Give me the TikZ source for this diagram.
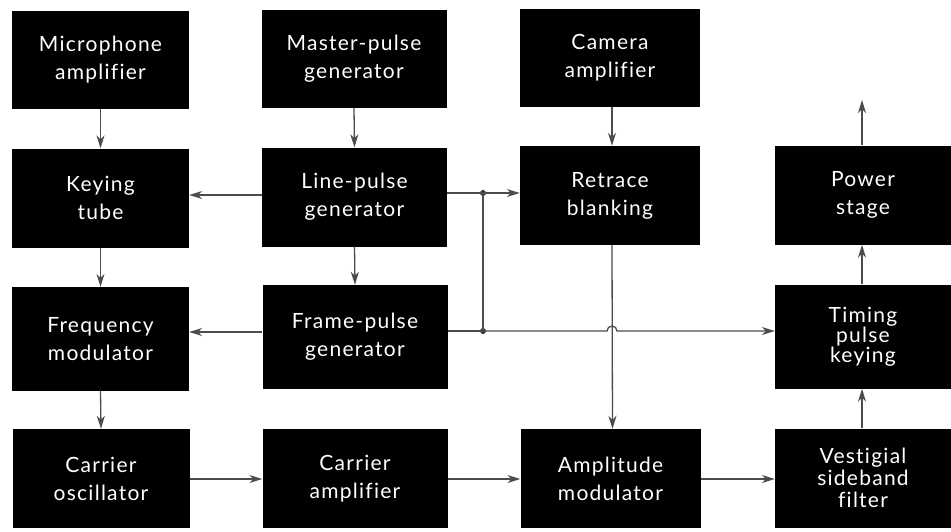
\documentclass[tikz,border=0pt]{standalone}
\usepackage{fontspec}
\setmainfont[LetterSpace=6,Ligatures={NoCommon,NoRare,NoContextual}]{Lato}
\usetikzlibrary{arrows.meta}
\begin{document}
\begin{tikzpicture}[x=1pt,y=-1pt,
  blk/.style={fill=black,draw=none,text=white,align=center,inner sep=0pt,
    font=\fontsize{21}{28}\selectfont},
  cola/.style={minimum width=177pt},
  colb/.style={minimum width=185pt},
  colc/.style={minimum width=180pt},
  cold/.style={minimum width=176pt},
  rowa/.style={minimum height=98pt},
  rowb/.style={minimum height=99pt},
  rowc/.style={minimum height=104pt},
  rowd/.style={minimum height=99pt},
  wire/.style={draw=black!70,line width=1.3pt},
  arr/.style={wire,-{Stealth[length=13pt,width=8pt,inset=4pt]}},
  dot/.style={circle,fill=black!80,inner sep=0pt,minimum size=6pt}]
\useasboundingbox[fill=white] (0,0) rectangle (951,531);
% row 1
\node[blk,cola,rowa] (mic) at (100.5,60) {Microphone\\amplifier};
\node[blk,colb,rowa] (master) at (354,59) {Master-pulse\\generator};
\node[blk,colc,rowa] (camera) at (610,58) {Camera\\amplifier};
% row 2
\node[blk,cola,rowb] (key) at (100.5,198) {Keying\\tube};
\node[blk,colb,rowb] (line) at (354.5,197) {Line-pulse\\generator};
\node[blk,colc,rowb] (retrace) at (610,195.5) {Retrace\\blanking};
\node[blk,cold,rowb] (power) at (863,195) {Power\\stage};
% row 3
\node[blk,cola,rowc] (freq) at (100.5,339) {Frequency\\modulator};
\node[blk,colb,rowc] (frame) at (355,337) {Frame-pulse\\generator};
\node[blk,cold,rowc,font=\fontsize{21}{20}\selectfont] (timing) at (863,336.5) {Timing\\pulse\\keying};
% row 4
\node[blk,cola,rowd] (osc) at (101,478.5) {Carrier\\oscillator};
\node[blk,colb,rowd] (camp) at (355,478.5) {Carrier\\amplifier};
\node[blk,colc,rowd] (ampl) at (610.5,478.5) {Amplitude\\modulator};
\node[blk,cold,rowd,font=\fontsize{21}{22}\selectfont] (vest) at (863,478) {Vestigial\\sideband\\filter};
% junctions
\node[dot] (j1) at (483,193) {};
\node[dot] (j2) at (483,331) {};
\coordinate (out) at (862,100);
% vertical arrows
\draw[arr] (mic.south) -- (key.north);
\draw[arr] (key.south) -- (freq.north);
\draw[arr] (freq.south) -- (osc.north);
\draw[arr] (master.south) -- (line.north);
\draw[arr] (line.south) -- (frame.north);
\draw[arr] ([xshift=2pt]camera.south) -- ([xshift=2pt]retrace.north);
\draw[arr] ([xshift=2pt]retrace.south) -- ([xshift=2pt]ampl.north);
\draw[arr] (vest.north -| out) -- (timing.south -| out);
\draw[arr] (timing.north -| out) -- (power.south -| out);
\draw[arr] (power.north -| out) -- (out);
% horizontal arrows
\draw[arr] (line.west |- 0,195) -- (key.east |- 0,195);
\draw[arr] (frame.west |- 0,332) -- (freq.east |- 0,332);
\draw[wire] (line.east |- j1) -- (j1.center);
\draw[arr] (j1.center) -- (retrace.west |- j1);
\draw[wire] (j1.center) -- (j2.center);
\draw[wire] (frame.east |- j2) -- (j2.center);
\draw[arr] (j2.center) -- (607,331) arc (180:360:5) -- (timing.west |- j2);
\draw[arr] (osc.east |- 0,479) -- (camp.west |- 0,479);
\draw[arr] (camp.east |- 0,479) -- (ampl.west |- 0,479);
\draw[arr] (ampl.east |- 0,479) -- (vest.west |- 0,479);
\end{tikzpicture}
\end{document}
